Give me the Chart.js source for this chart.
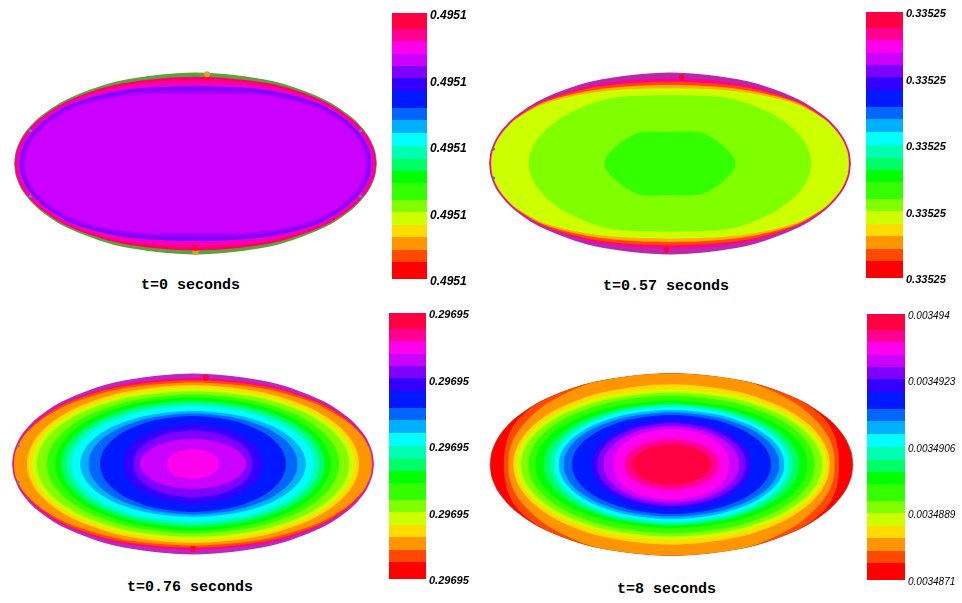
<!DOCTYPE html>
<html>
<head>
<meta charset="utf-8">
<title>Temperature maps</title>
<script src="https://cdn.jsdelivr.net/npm/chart.js@4"></script>
<style>
  html, body { margin: 0; padding: 0; background: #fff; width: 962px; height: 603px; overflow: hidden; }
  canvas { position: absolute; }
  canvas.map { filter: blur(0.7px); }
  .caption { position: absolute; font: bold 15px "Liberation Mono", monospace; line-height: 16px; color: #000; white-space: pre; }
</style>
</head>
<body>
<script>
// colour bar segments, bottom to top
const barSegments = [16.7, 12, 13, 12, 13, 12, 17, 12, 12, 13, 13, 13, 12, 17, 13, 12, 12, 13, 12, 16.3];
const barTickValues = [0, 66.5, 133, 199.5, 266];

const ticks0 = ['0.4951', '0.4951', '0.4951', '0.4951', '0.4951'];
const ticks1 = ['0.33525', '0.33525', '0.33525', '0.33525', '0.33525'];
const ticks2 = ['0.29695', '0.29695', '0.29695', '0.29695', '0.29695'];
const ticks3 = ['0.0034871', '0.0034889', '0.0034906', '0.0034923', '0.003494'];

const captions = ['t=0 seconds', 't=0.57 seconds', 't=0.76 seconds', 't=8 seconds'];

// contour directions of a quarter of the map (0 to 90 degrees)
const rayX = [1, 0.99, 0.951, 0.866, 0.707, 0.423, 0];
const rayY = [0, 0.139, 0.309, 0.5, 0.707, 0.906, 1];

// each row: the band's outer edge along the rays, in % of the map radius. Outermost first.
const radii0 = [
  [100, 100, 100, 100, 100, 100, 100],
  [99.6, 99.6, 99.5, 99, 98.5, 97, 95.5],
  [99.2, 99.2, 99, 98.2, 97.5, 95, 92.5],
  [98.6, 98.6, 98.2, 97.5, 96.5, 93, 89],
  [97, 97, 96.5, 95.8, 94.5, 89.5, 85],
  [95.5, 95.5, 95, 94.2, 92, 86, 80.5],
  [94, 94, 93.5, 92.5, 90, 83, 76.5]
];
const radii1 = [
  [100, 100, 100, 100, 100, 100, 100],
  [99.5, 99.5, 99.3, 99, 98, 96, 93.7],
  [99.2, 99.2, 99, 98.7, 97.5, 93.5, 90],
  [99, 99, 98.8, 98.4, 96.5, 90.5, 86.3],
  [98.8, 98.8, 98.6, 98, 95, 87.5, 82.6],
  [78.3, 78, 78, 78, 78.5, 79, 75],
  [36, 36, 35.5, 35, 36, 38, 34.7]
];
const radii2 = [
  [100, 100, 100, 100, 100, 100, 100],
  [99.5, 99.5, 99.2, 98.8, 98, 96.5, 95],
  [99.2, 99.2, 98.8, 98, 96.8, 94.5, 92.5],
  [99, 99, 98.5, 97, 95, 92, 90],
  [91.9, 91.8, 91.4, 90.7, 89.6, 88, 87.2],
  [89.1, 89, 88.5, 87.7, 86.3, 84.5, 83.5],
  [86.4, 86.3, 85.8, 84.9, 83.5, 81.6, 80.5],
  [80.8, 80.7, 80.4, 79.8, 78.9, 77.6, 76.9],
  [76.2, 76.1, 75.9, 75.5, 74.9, 74, 73.5],
  [73, 72.9, 72.7, 72.3, 71.5, 70.5, 70],
  [70, 69.9, 69.7, 69.3, 68.5, 67.5, 67],
  [67, 66.9, 66.7, 66.3, 65.5, 64.5, 64],
  [62.4, 62.3, 62, 61.5, 60.5, 59.3, 58.6],
  [57.8, 57.8, 57.6, 57.3, 56.8, 56.1, 55.7],
  [51.4, 51.4, 51.6, 51.8, 52.2, 52.7, 53],
  [38.5, 38.6, 39.1, 39.9, 41.3, 43, 44],
  [33, 33.1, 33.4, 34, 35, 36.3, 37],
  [29.3, 29.3, 29.1, 28.8, 28.4, 27.8, 27.5],
  [14.5, 14.5, 14.7, 15, 15.5, 16.1, 16.5]
];
const radii3 = [
  [100, 100, 100, 100, 100, 100, 100],
  [92.5, 93, 95, 98, 100, 100, 100],
  [90, 90.5, 91.5, 93, 96, 100, 100],
  [87.3, 87.3, 87.4, 87.6, 87.8, 88.1, 88.3],
  [85.5, 85.4, 85.2, 84.8, 84.1, 83.3, 82.8],
  [83, 82.9, 82.6, 82, 81.1, 79.9, 79.2],
  [79, 78.9, 78.7, 78.1, 77.2, 76.1, 75.5],
  [75.1, 75, 74.6, 73.8, 72.5, 70.9, 70],
  [70.5, 70.4, 70.2, 69.7, 68.8, 67.8, 67.2],
  [66.8, 66.8, 66.7, 66.4, 66, 65.6, 65.3],
  [64.6, 64.6, 64.5, 64.3, 64, 63.7, 63.5],
  [62.2, 62.2, 62, 61.6, 61.1, 60.4, 60],
  [59.5, 59.5, 59.3, 59, 58.4, 57.7, 57.3],
  [54.9, 54.9, 54.8, 54.8, 54.6, 54.5, 54.4],
  [43.8, 43.9, 44.3, 45.1, 46.4, 48.1, 49],
  [41, 41.1, 41.5, 42.1, 43.2, 44.7, 45.5],
  [37.4, 37.5, 37.9, 38.5, 39.7, 41.2, 42],
  [31.9, 32, 32.6, 33.7, 35.5, 37.7, 39],
  [26, 26, 26.2, 26.5, 27, 27.6, 28],
  [21.7, 21.7, 21.7, 21.8, 21.8, 22, 22]
];

// small spots on the rim, x and y in % of the map radius
const spotsX0 = [6.4, 6.4, 0, 0, -91, -91, 91, 91];
const spotsY0 = [94, 98, -97.5, -93, 36, -36, 36, -36];
const spotsX1 = [6.5, -2, -97.5, -97.5];
const spotsY1 = [94.6, -94.5, 16, -16];
const spotsX2 = [7, 0, -96.5, -96.5];
const spotsY2 = [95.4, -94, 20, -20];
const spotsX3 = [];
const spotsY3 = [];

const spotColors0 = ['#ff0040', '#e0a030', '#e0a030', '#ff0040', '#5a8ac0', '#5a8ac0', '#5a8ac0', '#5a8ac0'];
const spotColors1 = ['#ff0040', '#ff0040', '#5a6aa8', '#5a6aa8'];
const spotColors2 = ['#ff0040', '#ff0040', '#5a8aa8', '#5a8aa8'];
const spotColors3 = [];

const palette = ['#ff0000', '#ff4800', '#ff9500', '#ffdc00', '#ccff00', '#80ff00', '#33ff00', '#00ff00', '#00ff66', '#00ffb0',
  '#00ffff', '#00b0ff', '#0066ff', '#0019ff', '#3300ff', '#8000ff', '#cc00ff', '#ff00ee', '#ff0090', '#ff0040'];

const bandColors0 = ['#5ea03a', '#ff0060', '#ff0090', '#ee00c8', '#8000ff', '#a400ff', '#cc00ff'];
const bandColors1 = ['#b928a8', '#ff0090', '#ff4800', '#ffb000', '#ccff00', '#80ff00', '#33ff00'];
const bandColors2 = ['#b92ab8', '#ff0090', '#ff4800', '#ff9500', '#ffdc00', '#ccff00', '#80ff00', '#33ff00', '#00ff00', '#00ff66',
  '#00ffb0', '#00ffff', '#00b0ff', '#0066ff', '#0019ff', '#3300ff', '#8000ff', '#cc00ff', '#ff00ee'];
const bandColors3 = ['#ff0000', '#ff4800', '#ff9500', '#ffdc00', '#ccff00', '#80ff00', '#33ff00', '#00ff00', '#00ff66', '#00ffb0',
  '#00ffff', '#00b0ff', '#0066ff', '#0019ff', '#3300ff', '#8000ff', '#cc00ff', '#ff00ee', '#ff0090', '#ff0040'];

function outline(r, sign) {
  const pts = [];
  for (let i = 0; i < 7; i++) pts.push({ x: -rayX[i] * r[i], y: sign * rayY[i] * r[i] });
  for (let i = 5; i >= 0; i--) pts.push({ x: rayX[i] * r[i], y: sign * rayY[i] * r[i] });
  return pts;
}

function drawMap(left, top, w, h, radii, colors, spotsX, spotsY, spotColors, rimColor) {
  const canvas = document.createElement('canvas');
  const pad = 1.05;
  canvas.className = 'map';
  canvas.width = Math.round(w * pad);
  canvas.height = Math.round(h * pad);
  canvas.style.left = (left - (canvas.width - w) / 2) + 'px';
  canvas.style.top = (top - (canvas.height - h) / 2) + 'px';
  document.body.appendChild(canvas);

  const datasets = [];
  if (spotsX.length) {
    datasets.push({
      data: spotsX.map((x, i) => ({ x: x, y: spotsY[i] })),
      showLine: false, pointBorderWidth: 0, pointBackgroundColor: spotColors,
      // the blue-grey rim marks are much smaller than the hot spots
      pointRadius: spotColors.map(c => c.startsWith('#5a') ? 1.5 : 3)
    });
  }
  // the first dataset is painted last, so the innermost band goes first
  for (let i = radii.length - 1; i >= 0; i--) {
    const edge = i === 0 && rimColor ? rimColor : colors[i];
    datasets.push({
      data: outline(radii[i], 1), showLine: true, pointRadius: 0, tension: 0.3,
      borderColor: edge, borderWidth: i === 0 && rimColor ? 0.7 : 0,
      backgroundColor: colors[i], fill: '+1'
    });
    datasets.push({
      data: outline(radii[i], -1), showLine: true, pointRadius: 0, tension: 0.3,
      borderColor: edge, borderWidth: i === 0 && rimColor ? 0.7 : 0, fill: false
    });
  }

  new Chart(canvas, {
    type: 'scatter',
    data: { datasets: datasets },
    options: {
      responsive: false,
      animation: false,
      events: [],
      layout: { padding: 0, autoPadding: false },
      plugins: { legend: { display: false }, tooltip: { enabled: false }, title: { display: false } },
      scales: {
        x: { type: 'linear', display: false, min: -105, max: 105 },
        y: { type: 'linear', display: false, min: -105, max: 105 }
      }
    }
  });
}

function drawBar(left, top, barWidth, labels, font, labelShift) {
  const canvas = document.createElement('canvas');
  canvas.width = barWidth + 62;
  canvas.height = 266 + 16;
  canvas.style.left = left + 'px';
  canvas.style.top = (top - 8) + 'px';
  document.body.appendChild(canvas);

  new Chart(canvas, {
    type: 'bar',
    data: {
      labels: [''],
      datasets: barSegments.map((v, i) => ({ data: [v], backgroundColor: palette[i], borderWidth: 0, stack: 'bar' }))
    },
    options: {
      responsive: false,
      animation: false,
      events: [],
      layout: { padding: { top: 8, bottom: 8, left: 0, right: 0 }, autoPadding: false },
      datasets: { bar: { barPercentage: 1, categoryPercentage: 1 } },
      plugins: { legend: { display: false }, tooltip: { enabled: false } },
      scales: {
        x: { display: false, stacked: true },
        y: {
          stacked: true,
          position: 'right',
          min: 0,
          max: 266,
          border: { display: false },
          grid: { display: false, drawTicks: false },
          afterBuildTicks(scale) { scale.ticks = barTickValues.map(v => ({ value: v })); },
          afterFit(scale) { scale.width = 62; scale.paddingTop = 0; scale.paddingBottom = 0; },
          ticks: {
            color: '#000',
            padding: 3,
            font: font,
            autoSkip: false,
            labelOffset: labelShift,
            callback(value, i) { return labels[i]; }
          }
        }
      }
    }
  });
}

function addCaption(text, x, y) {
  const el = document.createElement('div');
  el.className = 'caption';
  el.textContent = text;
  el.style.left = x + 'px';
  el.style.top = y + 'px';
  document.body.appendChild(el);
}

drawMap(14, 72, 363, 182, radii0, bandColors0, spotsX0, spotsY0, spotColors0, null);
drawMap(489, 72, 362, 182, radii1, bandColors1, spotsX1, spotsY1, spotColors1, null);
drawMap(12, 373, 362, 181, radii2, bandColors2, spotsX2, spotsY2, spotColors2, null);
drawMap(490, 373, 363, 182, radii3, bandColors3, spotsX3, spotsY3, spotColors3, '#8a4a20');

const boldItalic = size => ({ family: '"Liberation Sans"', size: size, style: 'italic', weight: 'bold' });
drawBar(392, 13, 35, ticks0, boldItalic(12), 3);
drawBar(866, 12, 37, ticks1, boldItalic(11), 2);
drawBar(389, 313, 37, ticks2, boldItalic(11), 2);
drawBar(867, 314, 38, ticks3, { family: '"Liberation Sans"', size: 10, style: 'italic' }, 2);

addCaption(captions[0], 141, 278);
addCaption(captions[1], 603, 279);
addCaption(captions[2], 127, 580);
addCaption(captions[3], 617, 582);
</script>
</body>
</html>
